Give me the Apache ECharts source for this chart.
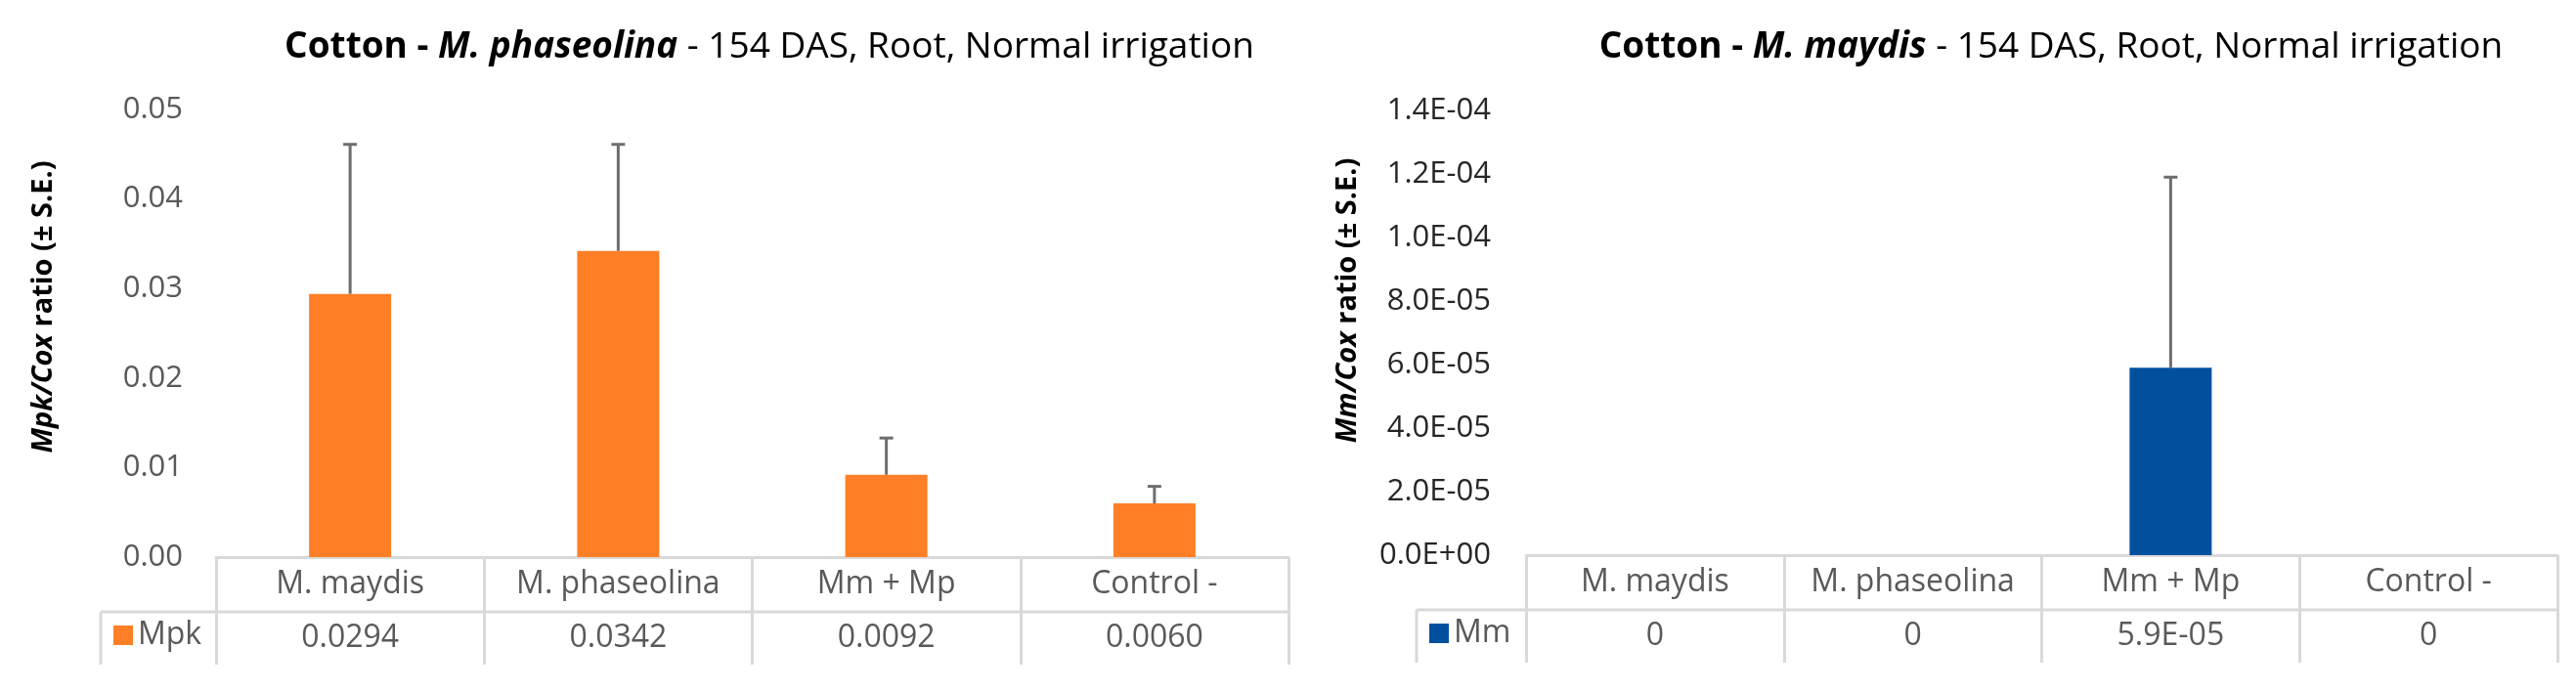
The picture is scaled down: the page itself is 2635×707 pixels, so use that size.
<!DOCTYPE html>
<html><head><meta charset="utf-8">
<script src="https://cdn.jsdelivr.net/npm/echarts@6/dist/echarts.min.js"></script>
<style>html,body{margin:0;padding:0;background:#fff}#c{width:2635px;height:707px}</style>
</head><body><div id="c"></div>
<script>
// ---- data ----
const categories = ['M. maydis', 'M. phaseolina', 'Mm + Mp', 'Control -'];
const mpkValues = [0.0294, 0.0342, 0.0092, 0.0060];
const mpkSE = [0.0167, 0.0119, 0.0041, 0.0019];
const mmValues = [0, 0, 5.9e-5, 0];
const mmSE = [0, 0, 6.0e-5, 0];
const mpkTableLabels = ['0.0294', '0.0342', '0.0092', '0.0060'];
const mmTableLabels = ['0', '0', '5.9E-05', '0'];
const leftTickLabels = ['0.00', '0.01', '0.02', '0.03', '0.04', '0.05'];
const rightTickLabels = ['0.0E+00', '2.0E-05', '4.0E-05', '6.0E-05', '8.0E-05', '1.0E-04', '1.2E-04', '1.4E-04'];

// ---- layout ----
const W = 2635, H = 707;
const FONT = '"Open Sans", "Noto Sans", sans-serif';
const L = { left: 221, right: 1318, top: 112, axisY: 570, cellLeft: 103 };
const R = { left: 1561, right: 2616, top: 113, axisY: 568, cellLeft: 1449 };
const ROW1 = 56, ROW2 = 54;
const ORANGE = '#FF7F27', BLUE = '#00509E';
const GRID_LINE = '#D9D9D9';
const LABEL_GRAY = '#595959';
const TITLE_SIZE = 37;

function errorRender(params, api) {
  const se = api.value(2);
  if (!se) return null;
  const x = api.value(0), m = api.value(1);
  const p0 = api.coord([x, m]);
  const p1 = api.coord([x, m + se]);
  const st = { stroke: '#6E6E6E', lineWidth: 3 };
  return { type: 'group', children: [
    { type: 'line', shape: { x1: p0[0], y1: p0[1], x2: p1[0], y2: p1[1] }, style: st },
    { type: 'line', shape: { x1: p1[0] - 7, y1: p1[1], x2: p1[0] + 7, y2: p1[1] }, style: st }
  ]};
}

function xAxisFor(gridIndex, tableLabels, len) {
  return {
    type: 'category', gridIndex, data: categories,
    axisLine: { show: true, lineStyle: { color: GRID_LINE, width: 3 } },
    axisTick: { show: true, interval: 0, length: len, lineStyle: { color: GRID_LINE, width: 3 } },
    axisLabel: {
      interval: 0, margin: 0,
      formatter: (v, i) => '{c|' + v + '}\n{v|' + tableLabels[i] + '}',
      rich: {
        c: { fontSize: 32, lineHeight: ROW1, color: LABEL_GRAY, fontFamily: FONT },
        v: { fontSize: 32, lineHeight: ROW2, color: LABEL_GRAY, fontFamily: FONT }
      }
    },
    splitLine: { show: false }
  };
}

function titleRich() {
  return {
    fontWeight: 'normal',
    rich: {
      b: { fontSize: TITLE_SIZE, fontWeight: 'bold', color: '#000', fontFamily: FONT },
      bi: { fontSize: TITLE_SIZE, fontWeight: 'bold', fontStyle: 'italic', color: '#000', fontFamily: FONT },
      n: { fontSize: TITLE_SIZE, fontWeight: 'normal', color: '#000', fontFamily: FONT }
    }
  };
}

const option = {
  animation: false,
  backgroundColor: '#fff',
  textStyle: { fontFamily: FONT },
  title: [
    {
      text: '{b|Cotton - }{bi|M. phaseolina}{n| - 154 DAS, Root, Normal irrigation}',
      left: 787, top: 30, textAlign: 'center', padding: 0,
      textStyle: titleRich()
    },
    {
      text: '{b|Cotton - }{bi|M. maydis}{n| - 154 DAS, Root, Normal irrigation}',
      left: 2098, top: 30, textAlign: 'center', padding: 0,
      textStyle: titleRich()
    }
  ],
  legend: [
    { data: ['Mpk'], left: 116, top: 634, icon: 'rect', itemWidth: 20, itemHeight: 20, itemGap: 0, padding: 0,
      textStyle: { fontSize: 32, color: LABEL_GRAY, fontFamily: FONT } },
    { data: ['Mm'], left: 1462, top: 632, icon: 'rect', itemWidth: 20, itemHeight: 20, itemGap: 0, padding: 0,
      textStyle: { fontSize: 32, color: LABEL_GRAY, fontFamily: FONT } }
  ],
  grid: [
    { left: L.left, right: W - L.right, top: L.top, bottom: H - L.axisY },
    { left: R.left, right: W - R.right, top: R.top, bottom: H - R.axisY }
  ],
  xAxis: [
    xAxisFor(0, mpkTableLabels, ROW1 + ROW2),
    xAxisFor(1, mmTableLabels, ROW1 + ROW2)
  ],
  yAxis: [
    {
      type: 'value', gridIndex: 0, min: 0, max: 0.05, interval: 0.01,
      axisLine: { show: false }, axisTick: { show: false }, splitLine: { show: false },
      axisLabel: { margin: 34, fontSize: 31, color: LABEL_GRAY, fontFamily: FONT,
        formatter: v => leftTickLabels[Math.round(v / 0.01)] },
      name: '{i|Mpk/Cox}{b| ratio (± S.E.)}', nameLocation: 'middle', nameRotate: 90, nameGap: 162,
      nameTextStyle: { padding: [0, 0, 0, 54], rich: {
        i: { fontSize: 29, fontWeight: 'bold', fontStyle: 'italic', color: '#000', fontFamily: FONT },
        b: { fontSize: 29, fontWeight: 'bold', color: '#000', fontFamily: FONT }
      } }
    },
    {
      type: 'value', gridIndex: 1, min: 0, max: 1.4e-4, interval: 2e-5,
      axisLine: { show: false }, axisTick: { show: false }, splitLine: { show: false },
      axisLabel: { margin: 36, fontSize: 31, color: '#262626', fontFamily: FONT,
        formatter: v => rightTickLabels[Math.round(v / 2e-5)] },
      name: '{i|Mm/Cox}{b| ratio (± S.E.)}', nameLocation: 'middle', nameRotate: 90, nameGap: 168,
      nameTextStyle: { padding: [0, 0, 0, 66], rich: {
        i: { fontSize: 29, fontWeight: 'bold', fontStyle: 'italic', color: '#000', fontFamily: FONT },
        b: { fontSize: 29, fontWeight: 'bold', color: '#000', fontFamily: FONT }
      } }
    }
  ],
  series: [
    { name: 'Mpk', type: 'bar', xAxisIndex: 0, yAxisIndex: 0, data: mpkValues, barWidth: 84,
      itemStyle: { color: ORANGE } },
    { name: 'Mpk SE', type: 'custom', xAxisIndex: 0, yAxisIndex: 0, z: 5,
      data: categories.map((c, i) => [i, mpkValues[i], mpkSE[i]]),
      encode: { x: 0, y: 1 }, renderItem: errorRender },
    { name: 'Mm', type: 'bar', xAxisIndex: 1, yAxisIndex: 1, data: mmValues, barWidth: 84,
      itemStyle: { color: BLUE } },
    { name: 'Mm SE', type: 'custom', xAxisIndex: 1, yAxisIndex: 1, z: 5,
      data: categories.map((c, i) => [i, mmValues[i], mmSE[i]]),
      encode: { x: 0, y: 1 }, renderItem: errorRender }
  ],
  graphic: [
    { type: 'line', shape: { x1: L.cellLeft, y1: L.axisY + ROW1, x2: L.right, y2: L.axisY + ROW1 },
      style: { stroke: GRID_LINE, lineWidth: 3 } },
    { type: 'line', shape: { x1: L.cellLeft, y1: L.axisY + ROW1, x2: L.cellLeft, y2: L.axisY + ROW1 + ROW2 },
      style: { stroke: GRID_LINE, lineWidth: 3 } },
    { type: 'line', shape: { x1: R.cellLeft, y1: R.axisY + ROW1, x2: R.right, y2: R.axisY + ROW1 },
      style: { stroke: GRID_LINE, lineWidth: 3 } },
    { type: 'line', shape: { x1: R.cellLeft, y1: R.axisY + ROW1, x2: R.cellLeft, y2: R.axisY + ROW1 + ROW2 },
      style: { stroke: GRID_LINE, lineWidth: 3 } }
  ]
};

const chart = echarts.init(document.getElementById('c'), null, { renderer: 'canvas', width: W, height: H });
chart.setOption(option);
</script>
</body></html>
